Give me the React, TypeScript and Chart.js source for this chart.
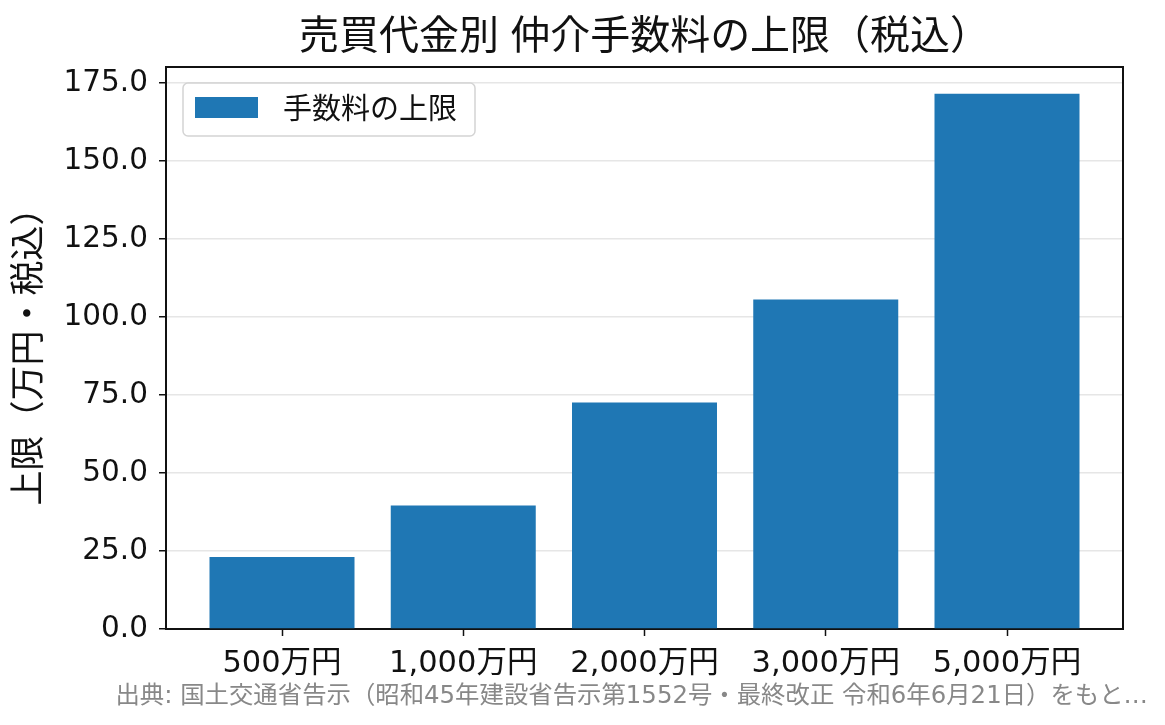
import React, { useEffect, useRef } from 'react';
import Chart from 'chart.js/auto';

const categories = ['500万円', '1,000万円', '2,000万円', '3,000万円', '5,000万円'];
const feeLimits = [23.1, 39.6, 72.6, 105.6, 171.6];
const yTicks = [0, 25, 50, 75, 100, 125, 150, 175];

const titleText = '売買代金別 仲介手数料の上限（税込）';
const yAxisTitle = '上限（万円・税込）';
const seriesLabel = '手数料の上限';
const sourceNote = '出典: 国土交通省告示（昭和45年建設省告示第1552号・最終改正 令和6年6月21日）をもと…';

const FONT = 'Inter, "Noto Sans CJK JP", sans-serif';
const NUM_FONT = '"DejaVu Sans", "Noto Sans CJK JP", sans-serif';
const BAR_COLOR = '#1f77b4';

// draws the title, the boxed legend, the axes frame and the source note
const decorPlugin = {
    id: 'decor',
    afterDraw(chart: any) {
        const { ctx, chartArea } = chart;
        const { left, top, right, bottom } = chartArea;
        ctx.save();

        // frame on top/right (left/bottom come from the axis borders)
        ctx.strokeStyle = '#111';
        ctx.lineWidth = 2;
        ctx.beginPath();
        ctx.moveTo(left, top);
        ctx.lineTo(right, top);
        ctx.lineTo(right, bottom);
        ctx.stroke();

        // title
        ctx.fillStyle = '#111';
        ctx.font = `40px ${FONT}`;
        ctx.textAlign = 'center';
        ctx.textBaseline = 'middle';
        ctx.fillText(titleText, (left + right) / 2, 37);

        // legend
        ctx.font = `29px ${FONT}`;
        const textW = ctx.measureText(seriesLabel).width;
        const lx = left + 17;
        const ly = top + 16;
        const lw = 12 + 63 + 25 + textW + 18;
        const lh = 53;
        ctx.beginPath();
        ctx.roundRect(lx, ly, lw, lh, 5);
        ctx.fillStyle = 'rgba(255,255,255,0.85)';
        ctx.fill();
        ctx.strokeStyle = '#d4d4d4';
        ctx.lineWidth = 1.5;
        ctx.stroke();
        ctx.fillStyle = BAR_COLOR;
        ctx.fillRect(lx + 12, ly + 14, 63, 21);
        ctx.fillStyle = '#111';
        ctx.textAlign = 'left';
        ctx.fillText(seriesLabel, lx + 100, ly + 27);

        // source note
        ctx.font = `24.4px ${NUM_FONT}`;
        ctx.fillStyle = '#888';
        ctx.textAlign = 'right';
        ctx.fillText(sourceNote, chart.width - 17, 697);

        ctx.restore();
    },
};

const App: React.FC = () => {
    const chartRef = useRef<HTMLCanvasElement>(null);
    const chartInstance = useRef<Chart | null>(null);

    useEffect(() => {
        document.body.style.margin = '0';
        if (!chartRef.current) return;
        const ctx = chartRef.current.getContext('2d');
        if (!ctx) return;

        if (chartInstance.current) {
            chartInstance.current.destroy();
        }

        const textColor = '#111';

        chartInstance.current = new Chart(ctx, {
            type: 'bar',
            data: {
                datasets: [{
                    label: seriesLabel,
                    data: feeLimits.map((v, i) => ({ x: i, y: v })),
                    backgroundColor: BAR_COLOR,
                    borderWidth: 0,
                    categoryPercentage: 0.8,
                    barPercentage: 1.0,
                }]
            },
            options: {
                responsive: false,
                animation: false,
                layout: { padding: { top: 67, right: 42, left: 0, bottom: 0 } },
                plugins: {
                    legend: { display: false },
                    title: { display: false },
                    tooltip: { enabled: false },
                },
                scales: {
                    x: {
                        type: 'linear',
                        min: -0.64,
                        max: categories.length - 1 + 0.64,
                        offset: false,
                        afterBuildTicks: (axis: any) => {
                            axis.ticks = categories.map((_, i) => ({ value: i }));
                        },
                        afterFit: (axis: any) => { axis.height = 96; },
                        grid: {
                            offset: false,
                            drawOnChartArea: false,
                            tickLength: 7,
                            tickColor: textColor,
                            tickWidth: 1.5,
                        },
                        border: { color: textColor, width: 2 },
                        ticks: {
                            color: textColor,
                            font: { family: NUM_FONT, size: 30.5 },
                            padding: 10,
                            maxRotation: 0,
                            callback: (value: any) => categories[Math.round(Number(value))] ?? '',
                        },
                    },
                    y: {
                        min: 0,
                        max: 171.6 * 1.05,
                        afterBuildTicks: (axis: any) => {
                            axis.ticks = yTicks.map(v => ({ value: v }));
                        },
                        afterFit: (axis: any) => { axis.width = 166; },
                        grid: {
                            color: '#e6e6e6',
                            lineWidth: 1.5,
                            tickLength: 7,
                            tickColor: textColor,
                            tickWidth: 1.5,
                        },
                        border: { color: textColor, width: 2 },
                        ticks: {
                            color: textColor,
                            font: { family: NUM_FONT, size: 29.5 },
                            padding: 11,
                            callback: (value: any) => Number(value).toFixed(1),
                        },
                        title: {
                            display: true,
                            text: yAxisTitle,
                            color: textColor,
                            font: { family: FONT, size: 35 },
                            padding: { top: 8, bottom: 0 },
                        },
                    },
                },
            },
            plugins: [decorPlugin],
        });

        return () => {
            if (chartInstance.current) {
                chartInstance.current.destroy();
                chartInstance.current = null;
            }
        };
    }, []);

    return (
        <div style={{ width: 1165, height: 725, background: '#fff' }}>
            <canvas ref={chartRef} width={1165} height={725}></canvas>
        </div>
    );
};

export default App;
